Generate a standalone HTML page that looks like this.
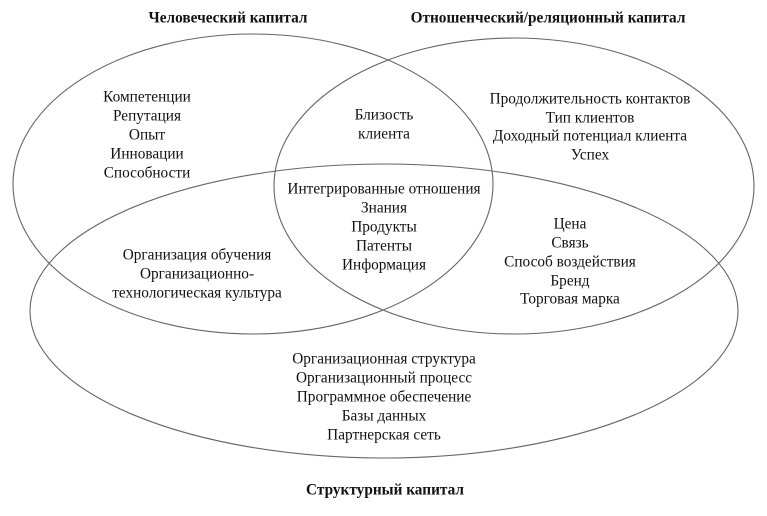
<!DOCTYPE html>
<html><head><meta charset="utf-8"><style>
html,body{margin:0;padding:0;background:#fff;}
svg{display:block;}
text{font-family:"Liberation Serif",serif;font-size:15.3px;fill:#111;text-anchor:middle;dominant-baseline:central;}
.b{font-weight:bold;}
</style></head><body>
<svg width="767" height="516" viewBox="0 0 767 516">
<g fill="none" stroke="#666" stroke-width="1.1">
<ellipse cx="253" cy="184" rx="240" ry="150"/>
<ellipse cx="514" cy="186" rx="240" ry="148"/>
<ellipse cx="384" cy="311" rx="354" ry="147"/>
</g>
<text class="b" x="228" y="18">Человеческий капитал</text>
<text class="b" x="548" y="18">Отношенческий/реляционный капитал</text>
<text class="b" x="385" y="490">Структурный капитал</text>
<text x="147" y="97">Компетенции</text>
<text x="147" y="116">Репутация</text>
<text x="147" y="135">Опыт</text>
<text x="147" y="154">Инновации</text>
<text x="147" y="173">Способности</text>
<text x="384" y="115">Близость</text>
<text x="384" y="134">клиента</text>
<text x="590" y="99">Продолжительность контактов</text>
<text x="590" y="118">Тип клиентов</text>
<text x="590" y="136">Доходный потенциал клиента</text>
<text x="590" y="155">Успех</text>
<text x="384" y="189">Интегрированные отношения</text>
<text x="384" y="208">Знания</text>
<text x="384" y="227">Продукты</text>
<text x="384" y="246">Патенты</text>
<text x="384" y="265">Информация</text>
<text x="197" y="255">Организация обучения</text>
<text x="197" y="274">Организационно-</text>
<text x="197" y="293">технологическая культура</text>
<text x="570" y="224">Цена</text>
<text x="570" y="243">Связь</text>
<text x="570" y="262">Способ воздействия</text>
<text x="570" y="281">Бренд</text>
<text x="570" y="299">Торговая марка</text>
<text x="384" y="359">Организационная структура</text>
<text x="384" y="378">Организационный процесс</text>
<text x="384" y="397">Программное обеспечение</text>
<text x="384" y="416">Базы данных</text>
<text x="384" y="435">Партнерская сеть</text>
</svg>
</body></html>
